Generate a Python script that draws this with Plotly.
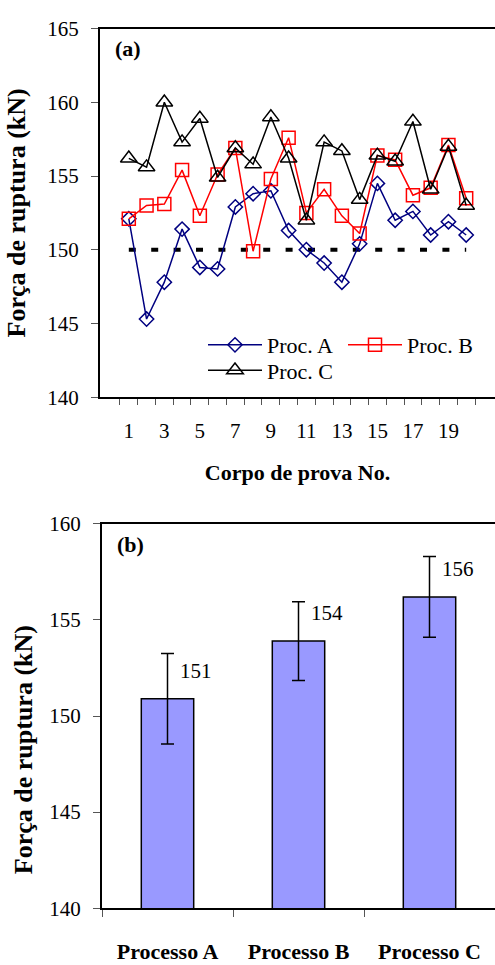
import plotly.graph_objects as go

# Figure size in pixels
W, H = 495, 965

# ---- (a) breaking force per specimen ----
corpo_prova = list(range(1, 21))
proc_a = [152.1, 145.3, 147.8, 151.4, 148.8, 148.7, 152.9, 153.8, 154.0, 151.3,
          150.0, 149.1, 147.8, 150.4, 154.5, 152.0, 152.6, 151.0, 151.9, 151.0]
proc_b = [152.1, 153.0, 153.1, 155.4, 152.3, 155.1, 156.9, 149.9, 154.8, 157.6,
          152.5, 154.1, 152.3, 151.1, 156.4, 156.1, 153.7, 154.2, 157.1, 153.5]
proc_c = [156.2, 155.6, 160.0, 157.3, 158.9, 154.9, 156.9, 155.8, 159.0, 156.2,
          152.0, 157.3, 156.7, 153.4, 156.4, 156.0, 158.7, 154.1, 157.0, 153.0]
limite_minimo = 150
rotulos_x = [str(n) if n % 2 else "" for n in corpo_prova]

# ---- (b) mean breaking force per process ----
processos = ["Processo A", "Processo B", "Processo C"]
media = [150.9, 153.9, 156.2]
desvio = [2.35, 2.05, 2.10]

FONT = "Liberation Serif"


def fx(px):
    return px / W


def fy(px):
    return 1 - px / H


fig = go.Figure()

# minimum-strength reference line
fig.add_trace(go.Scatter(
    x=corpo_prova, y=[limite_minimo] * len(corpo_prova), mode="lines",
    line=dict(color="black", width=4, dash="7px,15.4px"),
    showlegend=False, hoverinfo="skip", xaxis="x", yaxis="y"))

# (name, values, colour, marker, size, legend box)
series = [
    ("Proc. A", proc_a, "#000080", "diamond-open", 11, "legend"),
    ("Proc. B", proc_b, "#FF0000", "square-open", 13, "legend2"),
    ("Proc. C", proc_c, "#000000", "triangle-up-open", 14.5, "legend3"),
]
for nome, valores, cor, simbolo, tam, leg in series:
    fig.add_trace(go.Scatter(
        x=corpo_prova, y=valores, name=nome, mode="lines+markers",
        line=dict(color=cor, width=1.5),
        marker=dict(symbol=simbolo, size=tam, color=cor,
                    line=dict(color=cor, width=1.5)),
        legend=leg, xaxis="x", yaxis="y"))

fig.add_trace(go.Bar(
    x=processos, y=media, width=0.4,
    marker=dict(color="#9999FF", line=dict(color="black", width=1.5)),
    error_y=dict(type="data", array=desvio, visible=True,
                 color="black", thickness=1.5, width=6.5),
    showlegend=False, xaxis="x2", yaxis="y2"))

eixo = dict(showline=True, linecolor="black", linewidth=2, showgrid=False,
            zeroline=False, ticks="outside", tickcolor="#555", tickwidth=1,
            tickangle=0,
            tickfont=dict(family=FONT, size=21, color="black"))

legenda = dict(xanchor="left", yanchor="top", orientation="v",
               bgcolor="rgba(0,0,0,0)", font=dict(family=FONT, size=22),
               tracegroupgap=0, itemwidth=54)

fig.update_layout(
    width=W, height=H,
    margin=dict(l=0, r=0, t=0, b=0),
    paper_bgcolor="white", plot_bgcolor="white",
    font=dict(family=FONT, color="black"),
    xaxis=dict(eixo, domain=[fx(100), 1], anchor="y", type="category",
               tickmode="array", tickvals=corpo_prova, ticktext=rotulos_x,
               tickson="boundaries", ticklen=6, mirror=True,
               ticklabelstandoff=14,
               title=dict(text="<b>Corpo de prova No.</b>",
                          font=dict(family=FONT, size=22), standoff=22)),
    yaxis=dict(eixo, domain=[fy(395), fy(17)], anchor="x", range=[140, 165],
               dtick=5, ticklen=7, ticklabelstandoff=8,
               title=dict(text="<b>Força de ruptura (kN)</b>",
                          font=dict(family=FONT, size=26), standoff=14)),
    xaxis2=dict(eixo, domain=[fx(102), 1], anchor="y2", type="category",
                tickson="boundaries", ticklen=7, mirror=True,
                ticklabelstandoff=22,
                tickfont=dict(family=FONT, size=22, color="black", weight="bold")),
    yaxis2=dict(eixo, domain=[fy(919), fy(525)], anchor="x2", range=[140, 160],
                dtick=5, ticklen=7, ticklabelstandoff=8),
    legend=dict(legenda, x=fx(203), y=fy(320)),
    legend2=dict(legenda, x=fx(343), y=fy(320)),
    legend3=dict(legenda, x=fx(203), y=fy(346)),
    bargap=0.6,
)

annotations = [
    dict(text="<b>(a)</b>", x=fx(113), y=fy(37), xref="paper", yref="paper",
         xanchor="left", yanchor="middle", showarrow=False,
         font=dict(family=FONT, size=22)),
    dict(text="<b>(b)</b>", x=fx(115), y=fy(546), xref="paper", yref="paper",
         xanchor="left", yanchor="middle", showarrow=False,
         font=dict(family=FONT, size=22)),
    dict(text="<b>Força de ruptura (kN)</b>", textangle=-90,
         x=fx(23), y=fy(757), xref="paper", yref="paper",
         xanchor="center", yanchor="middle", showarrow=False,
         font=dict(family=FONT, size=26)),
]
for p, m in zip(processos, media):
    annotations.append(dict(
        text=f"{m:.0f}", x=p, y=m, xref="x2", yref="y2",
        xanchor="left", yanchor="middle", xshift=10, yshift=28,
        showarrow=False, font=dict(family=FONT, size=21)))
fig.update_layout(annotations=annotations)

fig.write_html("out.html")
